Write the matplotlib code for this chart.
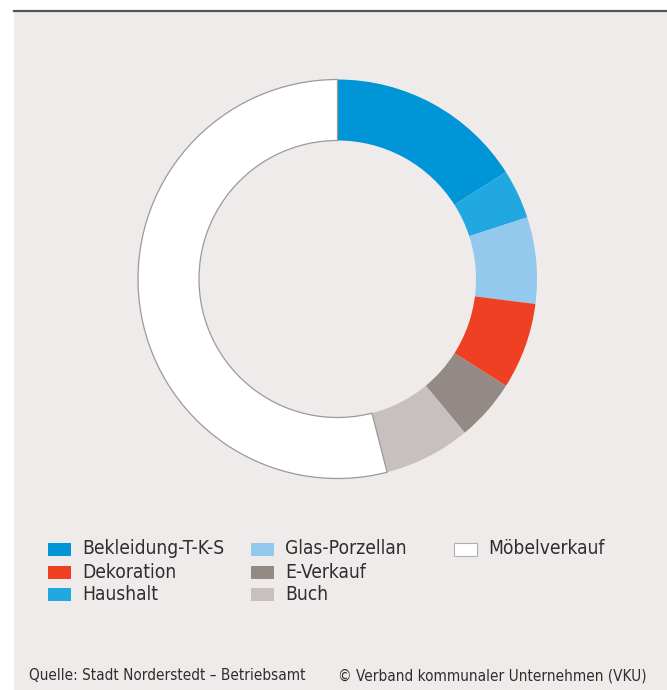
import matplotlib.pyplot as plt
from matplotlib.patches import Rectangle
from matplotlib.lines import Line2D

W, H = 667, 690

labels = ["Bekleidung-T-K-S", "Haushalt", "Glas-Porzellan", "Dekoration",
          "E-Verkauf", "Buch", "Möbelverkauf"]
values = [16, 4, 7, 7, 5, 7, 54]
colors = ["#0095d6", "#22a8e0", "#93c9ec", "#f04023",
          "#938a85", "#c8c0be", "#ffffff"]

# legend layout: column by column, like the original
legend_cols = [["Bekleidung-T-K-S", "Dekoration", "Haushalt"],
               ["Glas-Porzellan", "E-Verkauf", "Buch"],
               ["Möbelverkauf"]]

source_left = "Quelle: Stadt Norderstedt \u2013 Betriebsamt"
source_right = "\u00a9 Verband kommunaler Unternehmen (VKU)"

BG = "#efebea"
TXT = "#2e2e2e"
plt.rcParams["font.family"] = ["DejaVu Sans"]

fig = plt.figure(figsize=(W / 100, H / 100), dpi=100)
fig.patch.set_facecolor("white")


def px(x, y):
    return x / W, 1 - y / H


# grey panel and top rule
fig.patches.append(Rectangle((14 / W, 0), 1, 1 - 11 / H, transform=fig.transFigure,
                             facecolor=BG, edgecolor="none", zorder=-5))
fig.lines.append(Line2D([14 / W, 1], [1 - 10.5 / H] * 2, transform=fig.transFigure,
                        color="#555555", lw=1.6))

# donut
cx, cy, r = 337.5, 279, 200
ax = fig.add_axes([(cx - r) / W, 1 - (cy + r) / H, 2 * r / W, 2 * r / H])
ax.set_zorder(2)
ax.set_facecolor("none")
wedges, _ = ax.pie(values, colors=colors, startangle=90, counterclock=False,
                   radius=0.9975, wedgeprops=dict(width=0.305, linewidth=0))
wedges[-1].set_edgecolor("#9a9a9a")
wedges[-1].set_linewidth(0.9)
ax.set_xlim(-1, 1)
ax.set_ylim(-1, 1)
ax.set_aspect("equal")
ax.axis("off")

# legend
col_x = [48, 251, 454]
row_y = [549, 572, 594]
color_of = dict(zip(labels, colors))
for cx_, col in zip(col_x, legend_cols):
    for ry, lab in zip(row_y, col):
        x0, y0 = px(cx_, ry + 6.5)
        edge = "#b0b0b0" if lab == "Möbelverkauf" else "none"
        fig.patches.append(Rectangle((x0, y0), 23 / W, 13 / H, transform=fig.transFigure,
                                     facecolor=color_of[lab], edgecolor=edge, lw=0.8))
        fig.text(*px(cx_ + 34, ry), lab, fontsize=13.8, color=TXT,
                 va="center", ha="left", fontstretch="condensed")

# footer
fig.text(*px(29, 676), source_left, fontsize=11, color=TXT, va="center",
         fontstretch="condensed")
fig.text(*px(338, 676), source_right, fontsize=11, color=TXT, va="center",
         fontstretch="condensed")

fig.savefig("out.png", dpi=100, facecolor=fig.get_facecolor())
